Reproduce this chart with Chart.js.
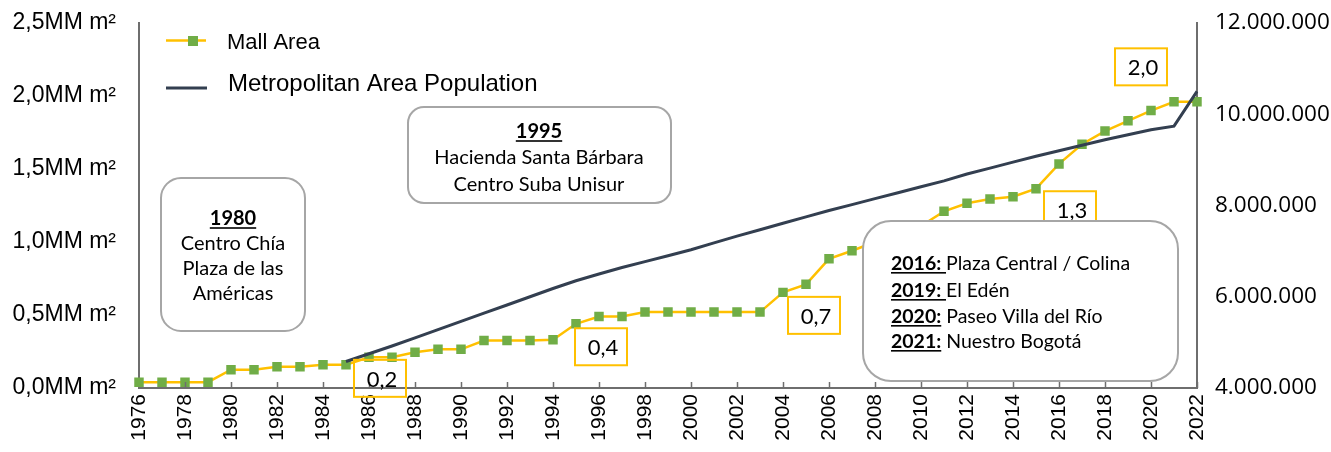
<!DOCTYPE html>
<html>
<head>
<meta charset="utf-8">
<script src="https://cdn.jsdelivr.net/npm/chart.js@4.4.1/dist/chart.umd.min.js"></script>
<style>
  html, body { margin: 0; padding: 0; background: #ffffff; }
  #wrap { width: 1331px; height: 452px; }
</style>
</head>
<body>
<div id="wrap"><canvas id="chart" width="1331" height="452"></canvas></div>
<script>
// Years on the horizontal axis
const years = [
  '1976','1977','1978','1979','1980','1981','1982','1983','1984','1985',
  '1986','1987','1988','1989','1990','1991','1992','1993','1994','1995',
  '1996','1997','1998','1999','2000','2001','2002','2003','2004','2005',
  '2006','2007','2008','2009','2010','2011','2012','2013','2014','2015',
  '2016','2017','2018','2019','2020','2021','2022'
];

// Cumulative mall area, millions of m²
const mallArea = [
  0.04, 0.04, 0.04, 0.04, 0.125, 0.125, 0.145, 0.145, 0.16, 0.16,
  0.21, 0.21, 0.245, 0.265, 0.265, 0.325, 0.325, 0.325, 0.33, 0.44,
  0.49, 0.49, 0.52, 0.52, 0.52, 0.52, 0.52, 0.52, 0.655, 0.71,
  0.885, 0.94, 1.0, 1.05, 1.11, 1.21, 1.265, 1.295, 1.31, 1.365,
  1.535, 1.67, 1.76, 1.83, 1.9, 1.96, 1.96
];

// Metropolitan area population (series starts in 1985)
const metroPopulation = [
  null, null, null, null, null, null, null, null, null, 4580000,
  4750000, 4920000, 5100000, 5280000, 5460000, 5640000, 5820000, 6000000, 6180000, 6350000,
  6500000, 6640000, 6770000, 6900000, 7030000, 7180000, 7330000, 7470000, 7610000, 7750000,
  7890000, 8020000, 8150000, 8280000, 8410000, 8540000, 8690000, 8820000, 8950000, 9080000,
  9200000, 9320000, 9440000, 9550000, 9660000, 9740000, 10500000
];

// Axis tick values
const areaTicks = [0, 0.5, 1.0, 1.5, 2.0, 2.5];
const populationTicks = [4000000, 6000000, 8000000, 10000000, 12000000];

// Value callouts: which year's value each orange box reports
const calloutYears = ['1986', '1995', '2004', '2014', '2021'];

const AXIS_COLOR = '#6e6e6e';
const MALL_LINE = '#FFC000';
const MALL_MARKER = '#70AD47';
const POP_LINE = '#333F50';
const SANS = "'Liberation Sans', Arial, sans-serif";
const CAL = "Lato, 'Open Sans', sans-serif";
const NUM = "'Open Sans', Lato, sans-serif";

function fmtArea(v) { return v.toFixed(1).replace('.', ',') + 'MM m²'; }
function fmtPop(v) { return String(Math.round(v)).replace(/\B(?=(\d{3})+(?!\d))/g, '.'); }

function roundRect(ctx, x, y, w, h, r) {
  ctx.beginPath();
  ctx.moveTo(x + r, y);
  ctx.arcTo(x + w, y, x + w, y + h, r);
  ctx.arcTo(x + w, y + h, x, y + h, r);
  ctx.arcTo(x, y + h, x, y, r);
  ctx.arcTo(x, y, x + w, y, r);
  ctx.closePath();
}

// Draws a line made of styled runs; align 'center' or 'left'
function drawRuns(ctx, runs, x, cy, size, align) {
  const fontOf = r => (r.bold ? 'bold ' : '') + size + 'px ' + CAL;
  let total = 0;
  runs.forEach(r => { ctx.font = fontOf(r); r.w = ctx.measureText(r.text).width; total += r.w; });
  let cx = align === 'center' ? x - total / 2 : x;
  const base = cy + size * 0.36;
  ctx.textBaseline = 'alphabetic';
  ctx.textAlign = 'left';
  ctx.fillStyle = '#000';
  runs.forEach(r => {
    ctx.font = fontOf(r);
    ctx.fillText(r.text, cx, base);
    if (r.underline) {
      ctx.fillRect(cx, base + 2, r.w, 1.6);
    }
    cx += r.w;
  });
}

// keep the plot area fixed: no extra room reserved for end labels
function fixVertical(width) {
  return function (s) { s.width = width; s.paddingTop = 0; s.paddingBottom = 0; };
}

const decorations = {
  id: 'decorations',
  afterDatasetsDraw(chart) {
    const { ctx, chartArea, scales } = chart;
    const xs = scales.x, ys = scales.y;
    ctx.save();

    // inward tick marks every second year
    ctx.strokeStyle = AXIS_COLOR;
    ctx.lineWidth = 1.5;
    years.forEach((yr, i) => {
      if (i === 0 || (+yr) % 2 !== 0) return;
      const px = Math.round(xs.getPixelForValue(i)) + 0.5;
      ctx.beginPath();
      ctx.moveTo(px, chartArea.bottom);
      ctx.lineTo(px, chartArea.bottom - 6);
      ctx.stroke();
    });

    // orange value callouts, anchored to their data point
    const offsets = [[11, 21], [25, 23], [31, 23], [57, 13], [-33, -35]];
    ctx.strokeStyle = MALL_LINE;
    ctx.lineWidth = 2;
    calloutYears.forEach((yr, k) => {
      const i = years.indexOf(yr);
      const v = mallArea[i];
      const cx = xs.getPixelForValue(i) + offsets[k][0];
      const cy = ys.getPixelForValue(v) + offsets[k][1];
      ctx.strokeRect(cx - 26, cy - 18.5, 52, 37);
      ctx.font = '22px ' + CAL;
      ctx.fillStyle = '#000';
      ctx.textAlign = 'center';
      ctx.textBaseline = 'middle';
      ctx.fillText(v.toFixed(1).replace('.', ','), cx + 2, cy + 1.5);
    });

    // rounded note boxes
    const boxes = [
      { x: 161, y: 178, w: 144, h: 153, r: 20, align: 'center', tx: 233, size: 20,
        lines: [
          { cy: 218, runs: [{ text: '1980', bold: true, underline: true }] },
          { cy: 243, runs: [{ text: 'Centro Chía' }] },
          { cy: 268, runs: [{ text: 'Plaza de las' }] },
          { cy: 293, runs: [{ text: 'Américas' }] }
        ] },
      { x: 408, y: 107, w: 263, h: 96, r: 16, align: 'center', tx: 539, size: 20,
        lines: [
          { cy: 131, runs: [{ text: '1995', bold: true, underline: true }] },
          { cy: 157, runs: [{ text: 'Hacienda Santa Bárbara' }] },
          { cy: 184, runs: [{ text: 'Centro Suba Unisur' }] }
        ] },
      { x: 863, y: 221, w: 315, h: 160, r: 28, align: 'left', tx: 891, size: 19.5,
        lines: [
          { cy: 263, runs: [{ text: '2016: ', bold: true, underline: true }, { text: 'Plaza Central / Colina' }] },
          { cy: 290, runs: [{ text: '2019: ', bold: true, underline: true }, { text: 'El Edén' }] },
          { cy: 316, runs: [{ text: '2020:', bold: true, underline: true }, { text: ' Paseo Villa del Río' }] },
          { cy: 341, runs: [{ text: '2021:', bold: true, underline: true }, { text: ' Nuestro Bogotá' }] }
        ] }
    ];
    boxes.forEach(b => {
      roundRect(ctx, b.x, b.y, b.w, b.h, b.r);
      ctx.fillStyle = '#ffffff';
      ctx.fill();
      ctx.strokeStyle = '#a6a6a6';
      ctx.lineWidth = 2;
      ctx.stroke();
      b.lines.forEach(l => drawRuns(ctx, l.runs, b.tx, l.cy, b.size, b.align));
    });

    ctx.restore();
  },
  afterDraw(chart) {
    const { ctx } = chart;
    ctx.save();
    // legend
    ctx.strokeStyle = MALL_LINE;
    ctx.lineWidth = 2.5;
    ctx.beginPath(); ctx.moveTo(166, 40.5); ctx.lineTo(206, 40.5); ctx.stroke();
    ctx.fillStyle = MALL_MARKER;
    ctx.fillRect(188, 36, 10, 10);
    ctx.strokeStyle = POP_LINE;
    ctx.lineWidth = 3;
    ctx.beginPath(); ctx.moveTo(166, 88); ctx.lineTo(207, 88); ctx.stroke();
    ctx.fillStyle = '#000';
    ctx.textAlign = 'left';
    ctx.textBaseline = 'middle';
    ctx.font = '22px ' + SANS;
    ctx.fillText(chart.data.datasets[0].label, 227, 43);
    ctx.font = '24px ' + SANS;
    ctx.fillText(chart.data.datasets[1].label, 228, 84);
    ctx.restore();
  }
};

new Chart(document.getElementById('chart'), {
  type: 'line',
  data: {
    labels: years,
    datasets: [
      {
        label: 'Mall Area',
        data: mallArea,
        yAxisID: 'y',
        order: 1,
        borderColor: MALL_LINE,
        borderWidth: 2.5,
        pointStyle: 'rect',
        pointRadius: 6.7,
        pointBorderWidth: 0,
        pointBackgroundColor: MALL_MARKER,
        pointBorderColor: MALL_MARKER,
        tension: 0
      },
      {
        label: 'Metropolitan Area Population',
        data: metroPopulation,
        yAxisID: 'y2',
        order: 0,
        borderColor: POP_LINE,
        borderWidth: 3,
        pointRadius: 0,
        spanGaps: false,
        tension: 0
      }
    ]
  },
  options: {
    responsive: false,
    animation: false,
    devicePixelRatio: 1,
    layout: { padding: { top: 23, left: 0, right: 0, bottom: 0 } },
    plugins: { legend: { display: false }, tooltip: { enabled: false } },
    scales: {
      x: {
        type: 'category',
        offset: false,
        grid: { display: false, drawTicks: false },
        border: { display: true, color: AXIS_COLOR, width: 2 },
        ticks: {
          autoSkip: false,
          minRotation: 90,
          maxRotation: 90,
          padding: 6,
          color: '#000',
          font: { family: SANS, size: 21 },
          callback: function (v) {
            const yr = this.getLabelForValue(v);
            return (+yr) % 2 === 0 ? yr : '';
          }
        },
        afterFit(s) { s.height = 64; s.paddingLeft = 0; s.paddingRight = 0; }
      },
      y: {
        position: 'left',
        min: areaTicks[0],
        max: areaTicks[areaTicks.length - 1],
        grid: { display: false, drawTicks: false },
        border: { display: true, color: AXIS_COLOR, width: 2 },
        afterBuildTicks(s) { s.ticks = areaTicks.map(v => ({ value: v })); },
        ticks: {
          padding: 23,
          color: '#000',
          font: { family: SANS, size: 23 },
          callback: v => fmtArea(v)
        },
        afterFit: fixVertical(139)
      },
      y2: {
        position: 'right',
        min: populationTicks[0],
        max: populationTicks[populationTicks.length - 1],
        grid: { display: false, drawTicks: false },
        border: { display: true, color: AXIS_COLOR, width: 2 },
        afterBuildTicks(s) { s.ticks = populationTicks.map(v => ({ value: v })); },
        ticks: {
          padding: 18,
          color: '#000',
          font: { family: NUM, size: 22.5 },
          callback: v => fmtPop(v)
        },
        afterFit: fixVertical(134)
      }
    }
  },
  plugins: [decorations]
});
</script>
</body>
</html>
